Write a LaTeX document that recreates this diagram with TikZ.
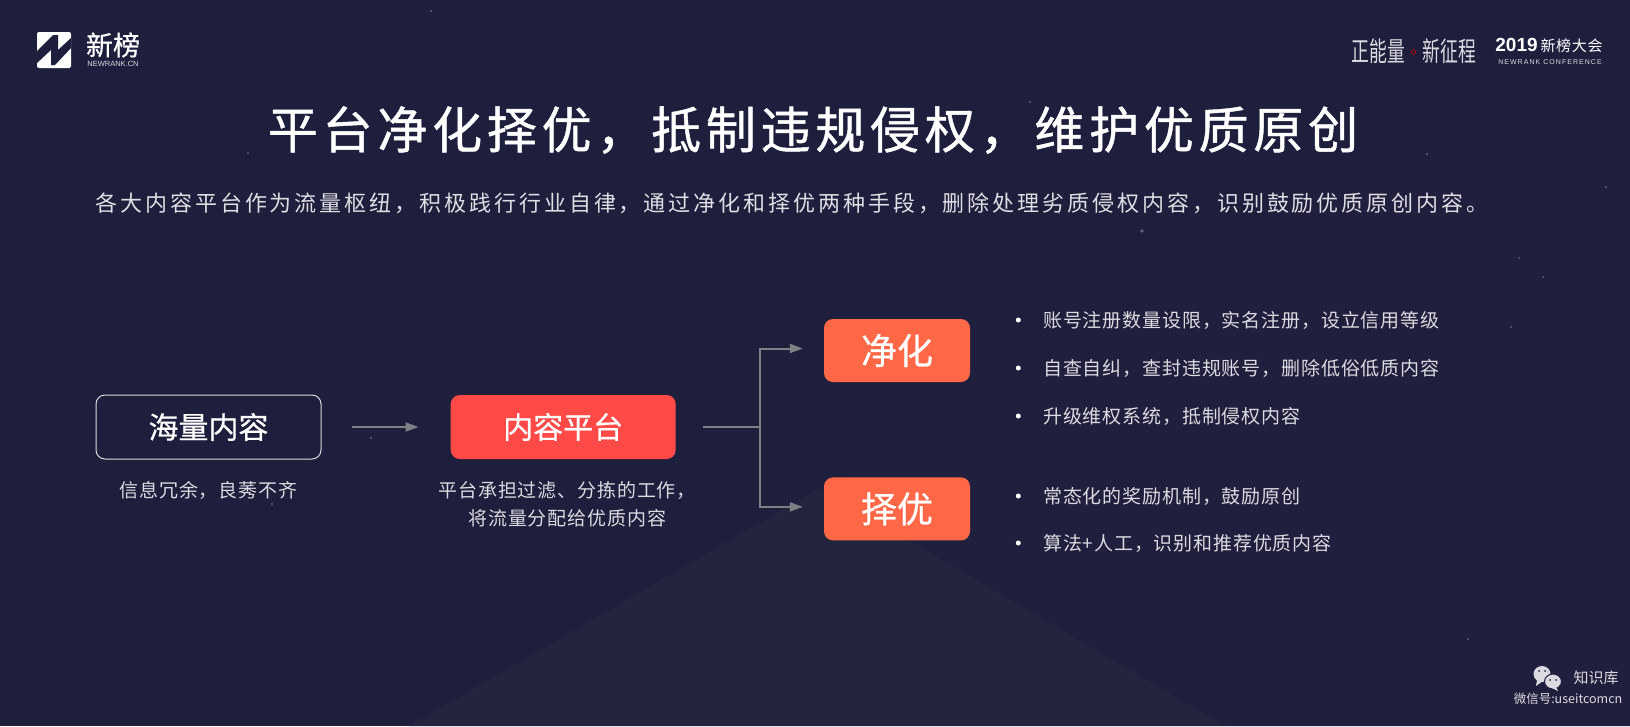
\documentclass[tikz,border=0pt]{standalone}
\usepackage{fontspec}
\setmainfont{Liberation Sans}
\newfontfamily\cjk{Noto Sans CJK SC}
\newfontfamily\cjkbox[FakeBold=.6]{Noto Sans CJK SC}
\newfontfamily\cjktitle[LetterSpace=9.5,FakeBold=.9]{Noto Sans CJK SC}
\newfontfamily\cjksub[LetterSpace=13.3]{Noto Sans CJK SC}
\newfontfamily\cjklist[LetterSpace=4.5]{Noto Sans CJK SC}
\newfontfamily\cjkslim[FakeStretch=.66]{Noto Sans CJK SC}
\newfontfamily\latinwide[LetterSpace=15]{Liberation Sans}
\usetikzlibrary{positioning,arrows.meta}
\definecolor{bgdark}{HTML}{1E1E3D}
\definecolor{bglight}{HTML}{24243F}
\definecolor{bgmid}{HTML}{20203E}
\definecolor{redbox}{HTML}{FF4A47}
\definecolor{orangebox}{HTML}{FF6847}
\definecolor{flowgray}{HTML}{7F7F86}
\definecolor{softwhite}{HTML}{DADAE0}
\tikzset{
	bigbox/.style={minimum width=225pt,minimum height=64pt,rounded corners=9pt,inner sep=0pt,text=white,font=\cjkbox\fontsize{30}{30}\selectfont},
	smallbox/.style={minimum width=146pt,minimum height=63pt,rounded corners=9pt,inner sep=0pt,fill=orangebox,text=white,font=\cjkbox\fontsize{36}{36}\selectfont},
	flow/.style={draw=flowgray,line width=2pt,-{Triangle[length=13pt,width=9pt]}},
	caption/.style={text=softwhite,inner sep=0pt,align=center,font=\cjklist\fontsize{19}{28.5}\selectfont},
	listitem/.style={text=softwhite,inner sep=0pt,anchor=west,font=\cjklist\fontsize{19}{19}\selectfont},
	dotitem/.style={fill=white,circle,inner sep=0pt,minimum size=5pt},
	star/.style={fill=white,opacity=.3},
}
\begin{document}
\begin{tikzpicture}[x=1pt,y=-1pt]
	\useasboundingbox (0,0) rectangle (1630,726);
	% background
	\fill[bgdark]	(0,0) rectangle (1630,726);
	\fill[bgmid]	(1630,20) -- (1630,726) -- (1225,726) -- (820,488) -- cycle;
	\fill[bglight]	(820,488) -- (1225,726) -- (409,726) -- cycle;
	\fill[star]	(431,11)	circle (1.2pt);
	\fill[star]	(1030,102)	circle (1.2pt);
	\fill[star]	(1427,154)	circle (1.2pt);
	\fill[star]	(1606,187)	circle (1.2pt);
	\fill[star]	(1142,231)	circle (1.8pt);
	\fill[star]	(1519,258)	circle (1pt);
	\fill[star]	(1543,277)	circle (1pt);
	\fill[star]	(1511,327)	circle (1pt);
	\fill[star]	(1059,213)	circle (1pt);
	\fill[star]	(371,438)	circle (1.2pt);
	\fill[star]	(272,504)	circle (1.2pt);
	\fill[star]	(248,153)	circle (1pt);
	\fill[star]	(1468,639)	circle (1.2pt);

	% logos
	\fill[white,rounded corners=2pt] (37,32) rectangle (71,68);
	\fill[bgdark] (37,51) -- (53,35) -- (58,35) -- (58,50) -- (71,38) -- (71,48) -- (55,65) -- (51,65) -- (51,50) -- (37,63) -- cycle;
	\node[text=white,inner sep=0pt,font=\cjkbox\fontsize{27}{27}\selectfont]	(brand)		at (113,45)	{新榜};
	\node[text=softwhite,inner sep=0pt,font=\fontsize{7.5}{8}\selectfont]	(brandsub)	at (113,64)	{NEWRANK.CN};
	\node[text=softwhite,inner sep=0pt,font=\cjkslim\fontsize{27}{27}\selectfont]	(slogan1)	at (1378.5,51)	{正能量};
	\node[text=softwhite,inner sep=0pt,font=\cjkslim\fontsize{27}{27}\selectfont]	(slogan2)	at (1449.5,51)	{新征程};
	\draw[red!70!black,line width=.8pt] (1413.5,52) circle (2.3pt);
	\node[text=white,inner sep=0pt,font=\fontsize{19}{19}\selectfont\bfseries]	(year)		at (1516.5,45)	{2019};
	\node[text=white,inner sep=0pt,font=\cjklist\fontsize{15}{15}\selectfont]	(confname)	at (1571.5,46)	{新榜大会};
	\node[text=softwhite,inner sep=0pt,font=\latinwide\fontsize{7}{8}\selectfont]	(confsub)	at (1550,62.5)	{NEWRANK CONFERENCE};

	% heading
	\node[text=white,inner sep=0pt,font=\cjktitle\fontsize{50}{50}\selectfont]	(title)	at (813,130)	{平台净化择优，抵制违规侵权，维护优质原创};
	\node[text=softwhite!90!white,inner sep=0pt,font=\cjksub\fontsize{22}{22}\selectfont]	(subtitle)	at (792,203)	{各大内容平台作为流量枢纽，积极践行行业自律，通过净化和择优两种手段，删除处理劣质侵权内容，识别鼓励优质原创内容。};

	% flow
	\node[bigbox,draw=softwhite,line width=1pt]	(source)	at (208.5,427)	{海量内容};
	\node[bigbox,fill=redbox,right=129pt of source]	(platform)	{内容平台};
	\node[smallbox]	(clean)	at (897,350.5)	{净化};
	\node[smallbox,below=95pt of clean]	(select)	{择优};
	\coordinate[right=84pt of platform]	(fork);
	\coordinate[left=21pt of clean,yshift=2pt]	(cleanin);
	\coordinate[left=21pt of select,yshift=2pt]	(selectin);

	\draw[flow,shorten <=30pt,shorten >=32pt]	(source)	--	(platform);
	\draw[draw=flowgray,line width=2pt,shorten <=27pt]	(platform)	--	(fork);
	\draw[flow]	(fork)	|-	(cleanin);
	\draw[flow]	(fork)	|-	(selectin);

	\node[caption,below=22pt of source]	(sourcenote)	{信息冗余，良莠不齐};
	\node[caption,below=22pt of platform,xshift=4pt]	(platformnote)	{平台承担过滤、分拣的工作，\\将流量分配给优质内容};

	% lists
	\node[listitem]	(item1)	at (1043,320)	{账号注册数量设限，实名注册，设立信用等级};
	\node[listitem]	(item2)	at (1043,368)	{自查自纠，查封违规账号，删除低俗低质内容};
	\node[listitem]	(item3)	at (1043,416)	{升级维权系统，抵制侵权内容};
	\node[listitem]	(item4)	at (1043,496)	{常态化的奖励机制，鼓励原创};
	\node[listitem]	(item5)	at (1043,543)	{算法+人工，识别和推荐优质内容};
	\node[dotitem,left=22pt of item1]	(dot1)	{};
	\node[dotitem,left=22pt of item2]	(dot2)	{};
	\node[dotitem,left=22pt of item3]	(dot3)	{};
	\node[dotitem,left=22pt of item4]	(dot4)	{};
	\node[dotitem,left=22pt of item5]	(dot5)	{};

	% watermark
	\fill[softwhite]	(1542,674) ellipse (8.5pt and 8pt);
	\fill[softwhite]	(1537,680) -- (1536,686) -- (1543,681) -- cycle;
	\fill[softwhite]	(1553,681.5) ellipse (8.5pt and 7.5pt);
	\draw[bgdark,line width=1pt]	(1553,681.5) ellipse (8.5pt and 7.5pt);
	\fill[softwhite]	(1556,687) -- (1558,691) -- (1552,688) -- cycle;
	\fill[bgdark]	(1539,671) circle (1pt);
	\fill[bgdark]	(1545,671) circle (1pt);
	\fill[bgdark]	(1550,680) circle (1pt);
	\fill[bgdark]	(1556,680) circle (1pt);
	\node[text=softwhite,inner sep=0pt,font=\cjk\fontsize{15}{15}\selectfont]	(wmname)	at (1596,678)	{知识库};
	\node[text=softwhite,inner sep=0pt,font=\cjk\fontsize{12.5}{14}\selectfont]	(wmid)	at (1568,699)	{微信号:useitcomcn};
\end{tikzpicture}
\end{document}
